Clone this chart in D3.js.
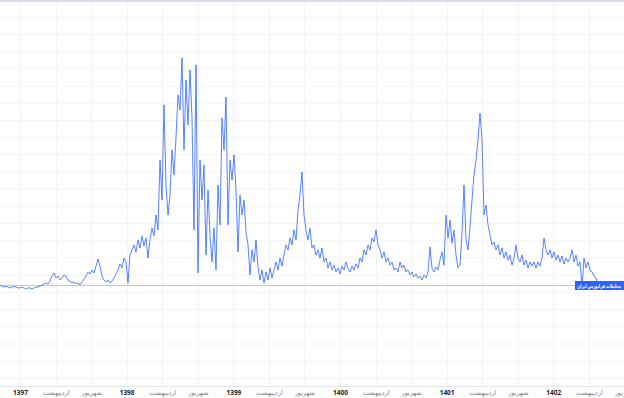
<!DOCTYPE html>
<html><head><meta charset="utf-8">
<script src="https://cdn.jsdelivr.net/npm/d3@7"></script>
<style>html,body{margin:0;padding:0;background:#fff;overflow:hidden}svg{display:block}</style>
</head><body>
<svg id="c" width="624" height="398"></svg>
<script>
// Daily trading value (thousand billion, arbitrary units), one sample per step
const values = [
5.43,5.37,5.31,5.37,5.31,5.26,5.31,5.37,5.31,5.26,5.26,5.31,5.26,5.20,5.26,5.26,5.20,5.26,5.31,5.31,5.37,
5.43,5.49,5.55,5.49,5.66,5.95,6.13,5.84,5.95,5.72,5.84,6.01,5.95,5.72,5.66,5.55,5.60,5.49,5.55,5.43,
5.60,5.78,5.95,6.19,6.07,6.30,6.13,6.53,6.94,6.53,5.95,5.72,5.60,5.72,5.55,5.66,5.84,6.07,6.30,6.65,6.42,7.00,6.77,5.55,
7.17,7.47,7.76,7.35,8.05,7.58,8.28,7.70,8.16,7.00,
8.05,8.74,8.28,9.50,8.63,12.70,10.37,15.90,11.24,9.50,10.66,13.28,11.83,14.03,16.48,15.60,18.63,13.28,17.35,14.73,
17.93,15.14,8.63,18.22,6.13,12.70,10.37,12.41,7.17,10.95,8.34,6.77,8.74,6.30,11.24,8.92,15.14,13.28,16.36,8.92,
12.70,11.53,13.00,10.95,7.35,10.66,9.50,10.37,8.51,7.76,6.01,7.47,6.77,8.05,6.48,
5.72,6.30,5.55,6.19,5.72,6.42,5.84,6.30,6.77,6.30,7.00,6.53,7.17,7.76,7.47,8.16,7.76,8.63,8.05,9.79,
10.66,12.00,9.50,8.63,8.05,8.74,7.58,7.76,7.17,7.47,7.00,7.58,6.77,7.00,6.42,6.77,
6.30,6.59,6.19,6.42,6.07,6.53,6.30,6.77,6.42,6.19,6.53,6.30,6.65,6.42,7.00,6.77,7.47,7.17,7.76,7.47,
8.16,7.93,8.63,7.76,7.47,7.00,7.35,6.77,7.00,6.59,6.77,6.30,6.42,6.19,6.77,6.42,6.59,6.19,6.30,6.01,
6.19,5.90,6.07,5.84,5.95,5.72,6.01,5.84,6.19,
7.64,6.42,6.19,6.48,6.30,6.88,7.35,6.59,9.50,8.16,9.21,7.87,8.63,7.17,6.42,6.59,8.45,11.24,8.05,7.47,
8.80,10.37,11.83,12.70,13.86,15.43,13.86,9.50,10.08,8.92,8.34,7.76,7.93,7.47,7.76,7.17,7.58,7.00,7.35,6.88,
7.17,6.59,7.00,7.76,7.00,6.77,7.17,6.59,6.88,6.42,6.77,6.53,6.77,6.42,6.77,6.53,7.00,8.16,7.47,7.17,
7.47,7.00,7.35,6.88,7.17,6.77,7.12,6.65,7.00,6.77,7.00,7.47,6.77,7.17,6.53,6.77,5.31,7.00,6.42,6.77,
6.30,6.19,5.95,5.84,5.43
];
// Time-axis ticks (position in sample index units) and labels
const tickIdx = [10,27.8,45.6,63.3,81.1,98.9,116.7,134.4,152.2,170,187.8,205.5,223.3,241.1,258.9,276.6,294.4,312.2];
const tickLabels = ["1397","اردیبهشت","شهریور","1398","اردیبهشت","شهریور","1399","اردیبهشت","شهریور","1400","اردیبهشت","شهریور","1401","اردیبهشت","شهریور","1402","اردیبهشت","شهریور"];
const gridValues = d3.range(0, 22, 1);
const seriesLabel = "معاملات فرابورس ایران";

const W = 624, H = 398, axisY = 386;
const svg = d3.select("#c");
const x = d3.scaleLinear().domain([0, values.length - 1]).range([0, 598]);
const y = d3.scaleLinear().domain([0, 22]).range([378.4, 0]);

// grid
svg.append("g").selectAll("line").data(gridValues).join("line")
  .attr("x1", 0).attr("x2", W).attr("y1", d => y(d)).attr("y2", d => y(d))
  .attr("stroke", "#f2f3f7").attr("stroke-width", 1);
svg.append("g").selectAll("line").data(tickIdx).join("line")
  .attr("x1", d => Math.round(x(d)) + 0.5).attr("x2", d => Math.round(x(d)) + 0.5)
  .attr("y1", 0).attr("y2", axisY)
  .attr("stroke", "#f2f3f7").attr("stroke-width", 1);

// top border
svg.append("rect").attr("x", 0).attr("y", 0).attr("width", W).attr("height", 2).attr("fill", "#dcdaea");

// axis
const xAxis = d3.axisBottom(x).tickValues(tickIdx).tickSize(0).tickPadding(4)
  .tickFormat((d, i) => tickLabels[i]);
const ax = svg.append("g").attr("transform", `translate(0,${axisY})`).call(xAxis);
ax.select(".domain").remove();
ax.selectAll("text")
  .attr("font-family", "Noto Sans, DejaVu Sans, sans-serif")
  .attr("font-size", 6.5)
  .attr("fill", (d, i) => i % 3 === 0 ? "#222" : "#7a7d88")
  .attr("font-weight", (d, i) => i % 3 === 0 ? "bold" : "normal");
svg.append("line").attr("x1", 0).attr("x2", W).attr("y1", axisY + 0.5).attr("y2", axisY + 0.5)
  .attr("stroke", "#e4e6ee");

// last value price line
const last = values[values.length - 1];
svg.append("line").attr("x1", 0).attr("x2", 575).attr("y1", Math.round(y(last)) + 0.5).attr("y2", Math.round(y(last)) + 0.5)
  .attr("stroke", "#2962ff").attr("stroke-opacity", 0.35).attr("stroke-width", 1);

// series line
const line = d3.line().x((d, i) => x(i)).y(d => y(d));
svg.append("path").datum(values).attr("d", line)
  .attr("fill", "none").attr("stroke", "#3a6dff").attr("stroke-width", 1).attr("stroke-opacity", 0.85)
  .attr("stroke-linejoin", "round");

// label box
const ly = Math.round(y(last));
svg.append("rect").attr("x", 575).attr("y", ly - 4).attr("width", 49).attr("height", 9).attr("fill", "#2962ff");
svg.append("text").attr("x", 621).attr("y", ly + 2.5).attr("fill", "#fff")
  .attr("direction", "rtl").attr("text-anchor", "start")
  .attr("textLength", 44).attr("lengthAdjust", "spacingAndGlyphs")
  .attr("font-family", "Noto Sans, DejaVu Sans, sans-serif").attr("font-size", 5.5).attr("font-weight", "bold")
  .text(seriesLabel);
</script>
</body></html>
